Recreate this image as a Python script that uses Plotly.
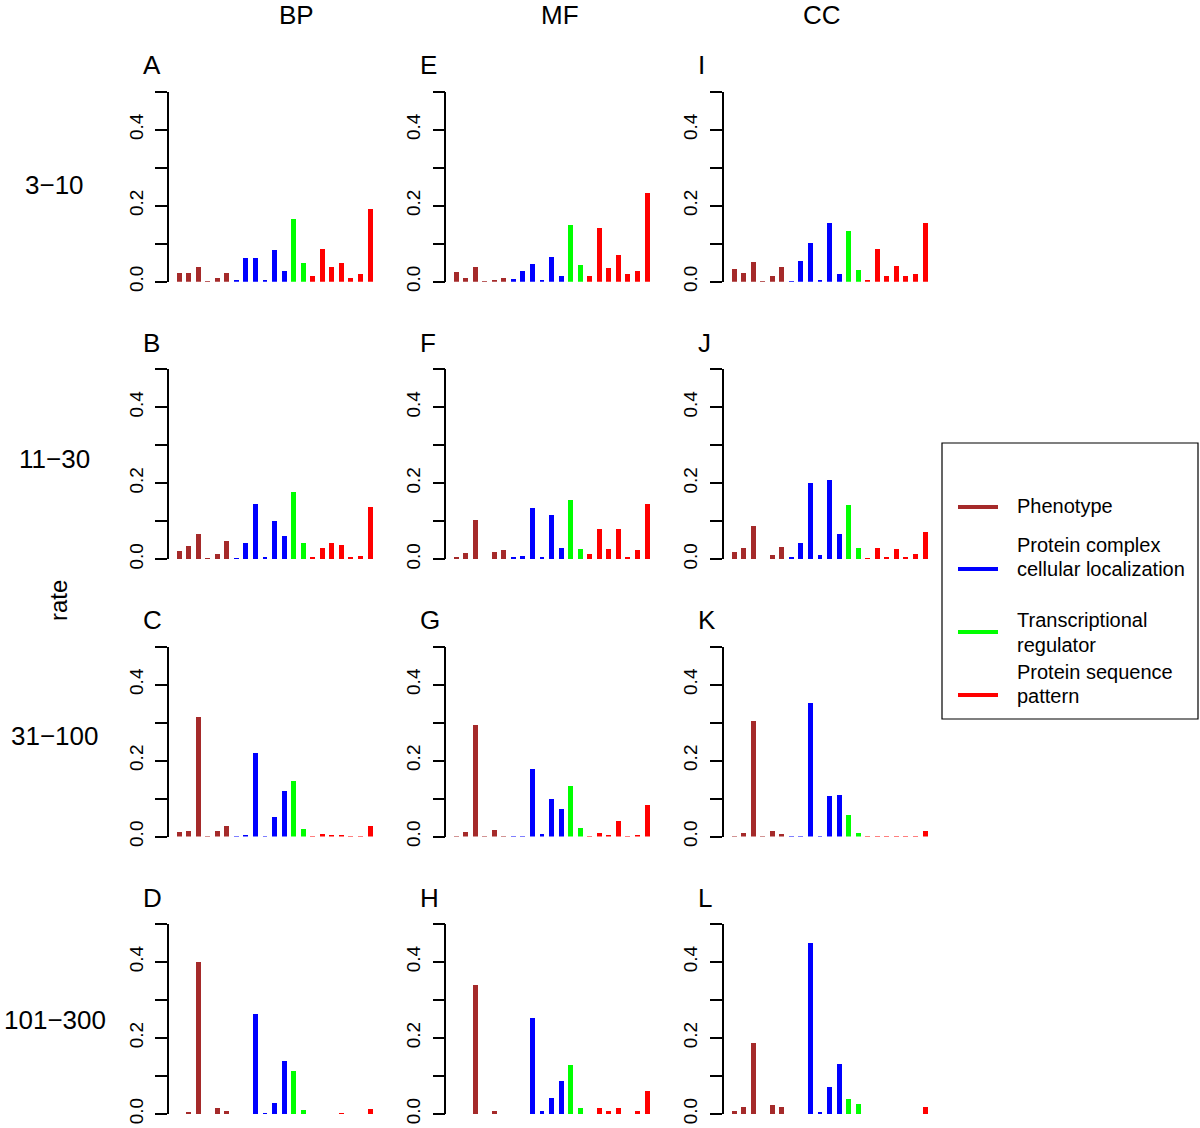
import plotly.graph_objects as go

# ---------------- data ----------------
groups = ["Phenotype", "Protein complex cellular localization",
          "Transcriptional regulator", "Protein sequence pattern"]
group_sizes = [6, 6, 2, 7]
group_colors = ["#A52A2A", "#0000FF", "#00FF00", "#FF0000"]

col_labels = ["BP", "MF", "CC"]
row_labels = ["3\u221210", "11\u221230", "31\u2212100", "101\u2212300"]
ytick_vals = [0.0, 0.1, 0.2, 0.3, 0.4, 0.5]
ytick_text = ["0.0", "", "0.2", "", "0.4", ""]

A = [0.025, 0.023, 0.040, 0.002, 0.010, 0.025, 0.004, 0.062, 0.062, 0.006, 0.083, 0.028,
     0.166, 0.051, 0.017, 0.087, 0.040, 0.050, 0.010, 0.022, 0.193]
E = [0.027, 0.011, 0.039, 0.002, 0.004, 0.010, 0.007, 0.029, 0.047, 0.004, 0.067, 0.016,
     0.149, 0.045, 0.015, 0.142, 0.037, 0.072, 0.020, 0.028, 0.235]
I = [0.033, 0.024, 0.053, 0.002, 0.016, 0.039, 0.002, 0.055, 0.103, 0.006, 0.155, 0.021,
     0.135, 0.031, 0.006, 0.086, 0.016, 0.041, 0.016, 0.021, 0.155]
B = [0.022, 0.033, 0.067, 0.001, 0.013, 0.048, 0.001, 0.041, 0.145, 0.005, 0.101, 0.060,
     0.176, 0.042, 0.004, 0.030, 0.041, 0.036, 0.005, 0.008, 0.137]
F = [0.006, 0.015, 0.102, 0.000, 0.018, 0.024, 0.004, 0.008, 0.134, 0.004, 0.115, 0.030,
     0.154, 0.027, 0.013, 0.078, 0.027, 0.079, 0.003, 0.025, 0.146]
J = [0.018, 0.030, 0.088, 0.000, 0.011, 0.032, 0.003, 0.041, 0.199, 0.010, 0.207, 0.065,
     0.141, 0.028, 0.001, 0.030, 0.004, 0.027, 0.004, 0.012, 0.071]
C = [0.012, 0.017, 0.316, 0.001, 0.016, 0.029, 0.001, 0.004, 0.221, 0.002, 0.052, 0.120,
     0.148, 0.021, 0.001, 0.007, 0.005, 0.003, 0.002, 0.002, 0.028]
G = [0.002, 0.014, 0.295, 0.001, 0.018, 0.002, 0.001, 0.002, 0.180, 0.007, 0.099, 0.074,
     0.134, 0.025, 0.002, 0.011, 0.004, 0.041, 0.001, 0.004, 0.085]
K = [0.002, 0.010, 0.306, 0.001, 0.016, 0.009, 0.001, 0.001, 0.353, 0.001, 0.108, 0.110,
     0.057, 0.010, 0.001, 0.002, 0.001, 0.002, 0.001, 0.001, 0.016]
D = [0.000, 0.006, 0.400, 0.000, 0.015, 0.008, 0.000, 0.000, 0.262, 0.002, 0.028, 0.140,
     0.112, 0.011, 0.000, 0.000, 0.000, 0.002, 0.000, 0.000, 0.012]
H = [0.000, 0.000, 0.339, 0.000, 0.008, 0.000, 0.000, 0.000, 0.252, 0.008, 0.043, 0.086,
     0.130, 0.016, 0.000, 0.016, 0.008, 0.016, 0.000, 0.008, 0.061]
L = [0.009, 0.018, 0.187, 0.000, 0.023, 0.018, 0.000, 0.000, 0.450, 0.004, 0.072, 0.131,
     0.040, 0.026, 0.000, 0.000, 0.000, 0.000, 0.000, 0.000, 0.018]

panels = [[("A", A), ("E", E), ("I", I)],
          [("B", B), ("F", F), ("J", J)],
          [("C", C), ("G", G), ("K", K)],
          [("D", D), ("H", H), ("L", L)]]

# ---------------- layout geometry (pixels) ----------------
W, H_ = 1200, 1128          # reference image size (coordinates below are in these px)
H_RENDER = 1138             # rendered figure height
FONT = "Liberation Sans, Arial, Helvetica, sans-serif"
col_left = [169.0, 446.3, 723.5]
panel_w = 210.6
row_zero = [281.7, 559.2, 836.6, 1114.0]
panel_h = 190.0
XR = [-0.05, 22.0]


def px(x):
    return x / W


def py(y):
    return 1 - y / H_


fig = go.Figure()
layout = dict(width=W, height=H_RENDER, margin=dict(l=0, r=0, t=0, b=0),
              paper_bgcolor="white", plot_bgcolor="white", showlegend=False,
              font=dict(family=FONT, color="black"))
annotations = []
shapes = []

idx = 0
for r in range(4):
    for c in range(3):
        idx += 1
        letter, vals = panels[r][c]
        xa = "x" if idx == 1 else f"x{idx}"
        ya = "y" if idx == 1 else f"y{idx}"
        start = 0
        for g, n in enumerate(group_sizes):
            xs = list(range(start + 1, start + n + 1))
            fig.add_trace(go.Bar(x=xs, y=vals[start:start + n], width=0.52,
                                 marker=dict(color=group_colors[g], line=dict(width=0)),
                                 name=groups[g], xaxis=xa, yaxis=ya,
                                 hoverinfo="y"))
            start += n
        xl = col_left[c]
        yz = row_zero[r]
        layout["xaxis" if idx == 1 else f"xaxis{idx}"] = dict(
            domain=[px(xl), px(xl + panel_w)], range=XR, visible=False, anchor=ya)
        layout["yaxis" if idx == 1 else f"yaxis{idx}"] = dict(
            domain=[py(yz), py(yz - panel_h)], range=[0, 0.5], anchor=xa,
            showline=True, linecolor="black", linewidth=1.5,
            ticks="outside", ticklen=12, tickwidth=1.5, tickcolor="black",
            tickvals=ytick_vals, ticktext=ytick_text, tickangle=-90,
            tickfont=dict(size=19, family=FONT, color="black"),
            ticklabelstandoff=5,
            showgrid=False, zeroline=False, fixedrange=True)
        annotations.append(dict(text=letter, x=px(xl - 28), y=py(yz - panel_h - 26.5),
                                xref="paper", yref="paper", xanchor="left", yanchor="middle",
                                showarrow=False, font=dict(size=26, family=FONT)))

# column headers
for cx, lab in zip([296, 560, 822], col_labels):
    annotations.append(dict(text=lab, x=px(cx), y=py(15), xref="paper", yref="paper",
                            xanchor="center", yanchor="middle", showarrow=False,
                            font=dict(size=26, family=FONT)))
# row labels
for ry, lab in zip([185, 459, 736, 1020], row_labels):
    annotations.append(dict(text=lab, x=px(55), y=py(ry), xref="paper", yref="paper",
                            xanchor="center", yanchor="middle", showarrow=False,
                            font=dict(size=26, family=FONT)))
# y title
annotations.append(dict(text="rate", x=px(58), y=py(601), xref="paper", yref="paper",
                        xanchor="center", yanchor="middle", showarrow=False, textangle=-90,
                        font=dict(size=24, family=FONT)))

# legend box (drawn manually to match layout)
shapes.append(dict(type="rect", xref="paper", yref="paper",
                   x0=px(942), x1=px(1198), y0=py(719), y1=py(443),
                   line=dict(color="black", width=1.2), fillcolor="rgba(0,0,0,0)"))
leg_line_y = [507, 569, 632, 695]
leg_text = [[("Phenotype", 506)],
            [("Protein complex", 545), ("cellular localization", 569)],
            [("Transcriptional", 620), ("regulator", 645)],
            [("Protein sequence", 672), ("pattern", 696)]]
for g in range(4):
    shapes.append(dict(type="line", xref="paper", yref="paper",
                       x0=px(958), x1=px(998), y0=py(leg_line_y[g]), y1=py(leg_line_y[g]),
                       line=dict(color=group_colors[g], width=4)))
    for t, ty in leg_text[g]:
        annotations.append(dict(text=t, x=px(1015), y=py(ty), xref="paper", yref="paper",
                                xanchor="left", yanchor="middle", showarrow=False,
                                font=dict(size=20, family=FONT)))

layout["annotations"] = annotations
layout["shapes"] = shapes
layout["bargap"] = 0
fig.update_layout(**layout)

post = """
(function(){
  var h = document.documentElement, b = document.body;
  h.style.margin = '0'; h.style.padding = '0'; h.style.overflow = 'hidden';
  b.style.margin = '0'; b.style.padding = '0'; b.style.overflow = 'hidden';
  var d = document.getElementById('{plot_id}');
  d.style.position = 'absolute'; d.style.left = '0px'; d.style.top = '0px';
})();
"""
fig.write_html("out.html", config={"displayModeBar": False}, post_script=post)
